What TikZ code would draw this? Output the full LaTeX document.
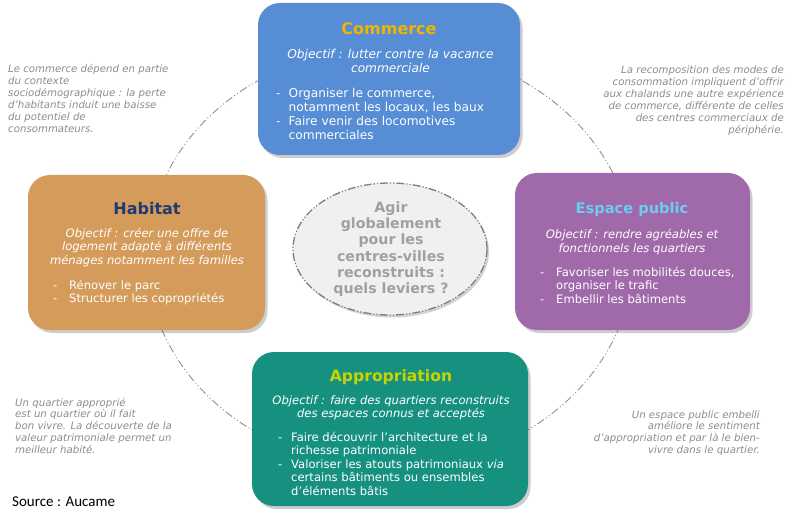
\documentclass[tikz,border=0pt]{standalone}
\usepackage{fontspec}
\setmainfont{DejaVu Sans}
\newfontfamily\srcfont{Carlito}
\usetikzlibrary{shadows,shapes.geometric}
\definecolor{commbox}{RGB}{86,141,212}
\definecolor{habbox}{RGB}{212,155,90}
\definecolor{espbox}{RGB}{160,106,170}
\definecolor{appbox}{RGB}{22,145,128}
\definecolor{commtitle}{RGB}{242,180,0}
\definecolor{habtitle}{RGB}{31,59,115}
\definecolor{esptitle}{RGB}{108,204,242}
\definecolor{apptitle}{RGB}{200,212,0}
\definecolor{annot}{RGB}{140,140,140}
\definecolor{loopgray}{RGB}{145,145,145}
\definecolor{hubfill}{RGB}{240,240,240}
\definecolor{hubline}{RGB}{125,125,125}
\definecolor{hubtext}{RGB}{160,160,160}
\begin{document}
\begin{tikzpicture}[x=1pt,y=-1pt,
  panel/.style={rectangle, rounded corners=22pt, inner sep=0pt, draw=none,
    drop shadow={shadow xshift=2.5pt, shadow yshift=-3pt, opacity=0.28, fill=black!70}},
  ttl/.style={anchor=base, inner sep=0pt},
  objtxt/.style={anchor=base, inner sep=0pt, text=white, font=\itshape\fontsize{11.6}{13.4}\selectfont},
  bultxt/.style={anchor=base west, inner sep=0pt, text=white, font=\fontsize{11.6}{13.4}\selectfont},
  note/.style={inner sep=0pt, text=annot, font=\itshape\fontsize{10.2}{11.9}\selectfont},
  loopline/.style={draw=loopgray, line width=0.9pt, dash pattern=on 8pt off 2.5pt on 1pt off 2.5pt on 1pt off 2.5pt}
]
\useasboundingbox (0,0) rectangle (786,510);
\newcommand{\dsh}{\makebox[12.5pt][l]{-}}

% large dash-dot loop behind the panels
\draw[loopline] (390,257) ellipse [x radius=243, y radius=210];

% panels
\node[panel, fill=commbox, minimum width=262pt, minimum height=152pt] (comm) at (389,79) {};
\node[panel, fill=habbox, minimum width=237pt, minimum height=155pt] (hab) at (146.5,252.5) {};
\node[panel, fill=espbox, minimum width=235pt, minimum height=157pt] (esp) at (632.5,251.5) {};
\node[panel, fill=appbox, minimum width=276pt, minimum height=154pt] (app) at (390,429) {};

% Commerce
\node[ttl, text=commtitle, font=\bfseries\fontsize{16}{19}\selectfont] (commt) at (389,34.5) {Commerce};
\node[objtxt, font=\itshape\fontsize{12.2}{13.5}\selectfont] (commo) at (390.5,59) {\begin{tabular}[t]{@{}c@{}}Objectif : lutter contre la vacance\\commerciale\end{tabular}};
\node[bultxt, font=\fontsize{12.2}{14}\selectfont] (commb) at (276,97.5) {\begin{tabular}[t]{@{}l@{}l@{}}\dsh&Organiser le commerce,\\&notamment les locaux, les baux\\\dsh&Faire venir des locomotives\\&commerciales\end{tabular}};

% Habitat
\node[ttl, text=habtitle, font=\bfseries\fontsize{16}{19}\selectfont] (habt) at (147,214.5) {Habitat};
\node[objtxt] (habo) at (147,237.5) {\begin{tabular}[t]{@{}c@{}}Objectif : créer une offre de\\logement adapté à différents\\ménages notamment les familles\end{tabular}};
\node[bultxt] (habb) at (53,289.5) {\begin{tabular}[t]{@{}l@{}l@{}}\makebox[16pt][l]{-}&Rénover le parc\\\makebox[16pt][l]{-}&Structurer les copropriétés\end{tabular}};

% Espace public
\node[ttl, text=esptitle, font=\bfseries\fontsize{14.6}{18}\selectfont] (espt) at (632,214) {Espace public};
\node[objtxt] (espo) at (632,239) {\begin{tabular}[t]{@{}c@{}}Objectif : rendre agréables et\\fonctionnels les quartiers\end{tabular}};
\node[bultxt] (espb) at (540,276.5) {\begin{tabular}[t]{@{}l@{}l@{}}\makebox[16pt][l]{-}&Favoriser les mobilités douces,\\&organiser le trafic\\\makebox[16pt][l]{-}&Embellir les bâtiments\end{tabular}};

% Appropriation
\node[ttl, text=apptitle, font=\bfseries\fontsize{15.6}{19}\selectfont] (appt) at (391,381.5) {Appropriation};
\node[objtxt] (appo) at (391,404.5) {\begin{tabular}[t]{@{}c@{}}Objectif : faire des quartiers reconstruits\\des espaces connus et acceptés\end{tabular}};
\node[bultxt] (appb) at (278,441.5) {\begin{tabular}[t]{@{}l@{}l@{}}\makebox[13pt][l]{-}&Faire découvrir l’architecture et la\\&richesse patrimoniale\\\makebox[13pt][l]{-}&Valoriser les atouts patrimoniaux \textit{via}\\&certains bâtiments ou ensembles\\&d’éléments bâtis\end{tabular}};

% central hub
\node[ellipse, minimum width=194pt, minimum height=132pt, fill=hubfill, draw=hubline, line width=1.3pt,
  dash pattern=on 8pt off 2pt on 1.2pt off 2pt on 1.2pt off 2pt,
  drop shadow={shadow xshift=2pt, shadow yshift=-2.5pt, opacity=0.25, fill=black!70}] (hub) at (390,249) {};
\node[anchor=base, inner sep=0pt, text=hubtext, font=\bfseries\fontsize{14.2}{16.2}\selectfont] (hubt) at (391,212.5)
  {\begin{tabular}[t]{@{}c@{}}Agir\\globalement\\pour les\\centres-villes\\reconstruits :\\quels leviers ?\end{tabular}};

% side notes
\node[note, anchor=base west] (n1) at (8,73) {\begin{tabular}[t]{@{}l@{}}Le commerce dépend en partie\\du contexte\\sociodémographique : la perte\\d’habitants induit une baisse\\du potentiel de\\consommateurs.\end{tabular}};
\node[note, anchor=base east] (n2) at (784,74) {\begin{tabular}[t]{@{}r@{}}La recomposition des modes de\\consommation impliquent d’offrir\\aux chalands une autre expérience\\de commerce, différente de celles\\des centres commerciaux de\\périphérie.\end{tabular}};
\node[note, anchor=base west] (n3) at (15,406) {\begin{tabular}[t]{@{}l@{}}Un quartier approprié\\est un quartier où il fait\\bon vivre. La découverte de la\\valeur patrimoniale permet un\\meilleur habité.\end{tabular}};
\node[note, anchor=base east] (n4) at (760,418) {\begin{tabular}[t]{@{}r@{}}Un espace public embelli\\améliore le sentiment\\d’appropriation et par là le bien-\\vivre dans le quartier.\end{tabular}};

% source
\node[anchor=base west, inner sep=0pt, font=\srcfont\fontsize{15}{18}\selectfont] (src) at (12,506) {Source : Aucame};
\end{tikzpicture}
\end{document}
